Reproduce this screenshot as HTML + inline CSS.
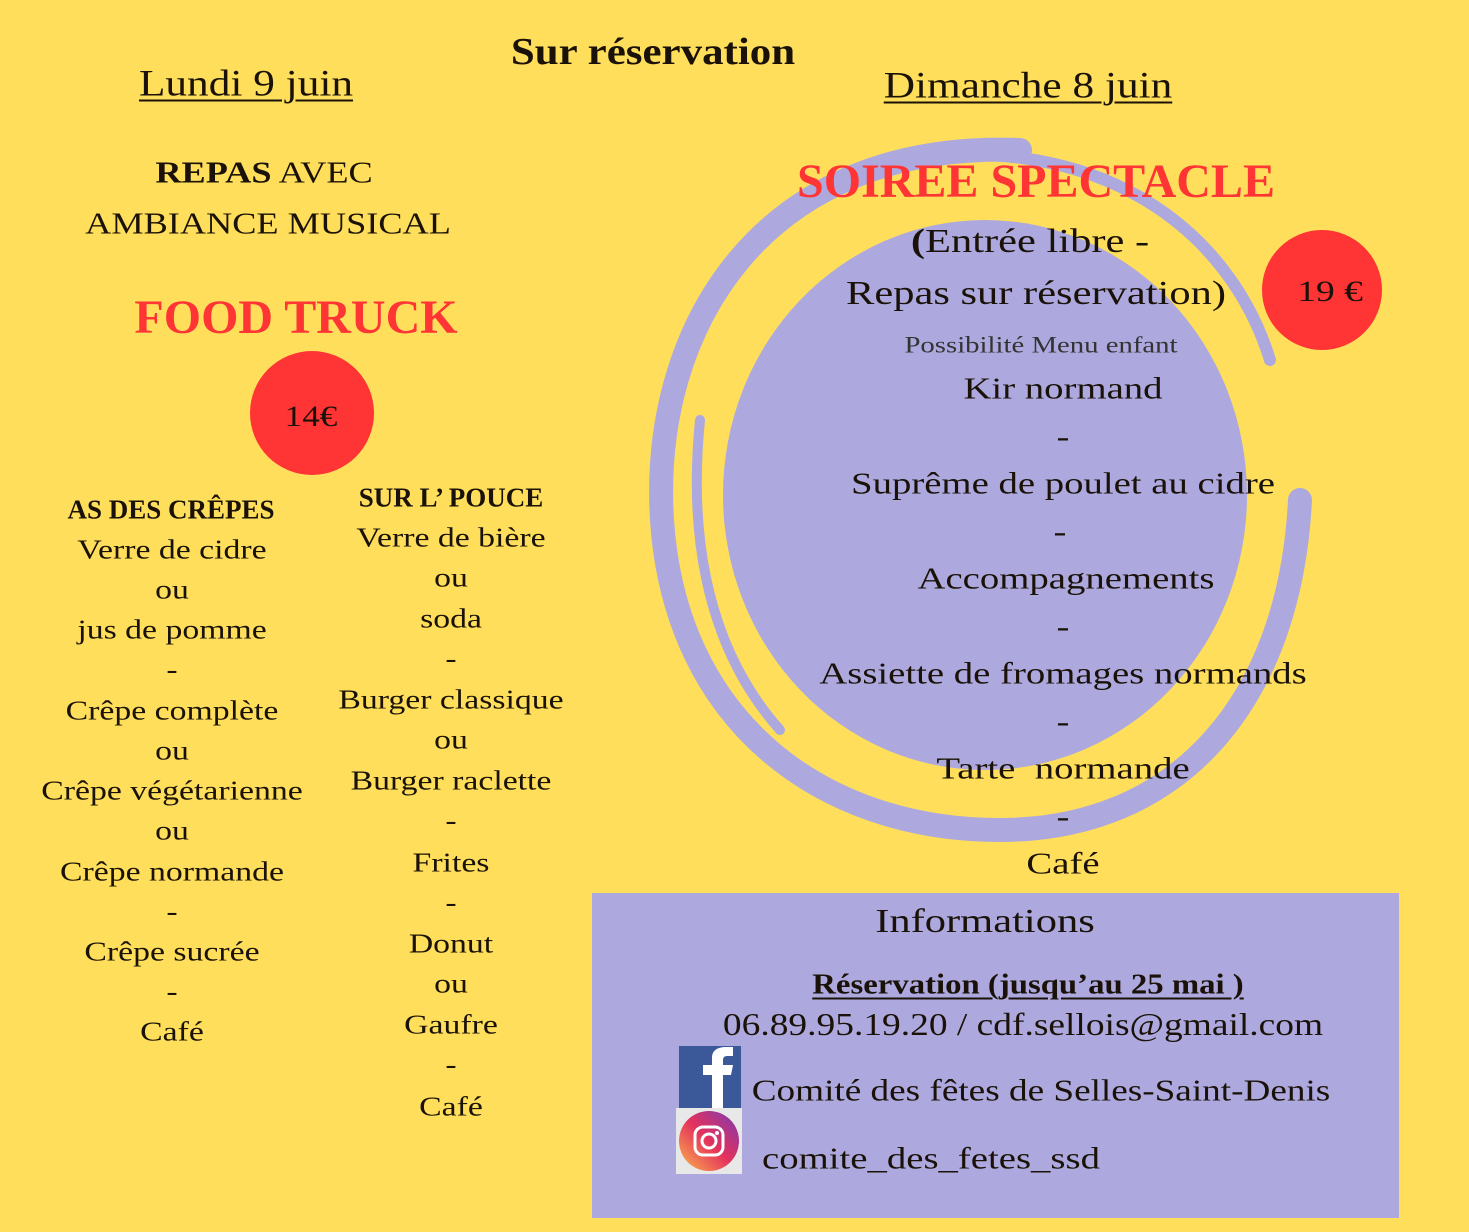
<!DOCTYPE html>
<html><head><meta charset="utf-8"><style>
html,body{margin:0;padding:0}
body{width:1469px;height:1232px;background:#FEDE5A;position:relative;overflow:hidden;font-family:"Liberation Serif",serif;color:#1a1208}
.c{position:absolute;transform:translate(-50%,-50%);white-space:nowrap;line-height:1}
.s1{transform:translate(-50%,-50%) scaleX(1.25)}
.s2{transform:translate(-50%,-50%) scaleX(1.17)}
.s3{transform:translate(-50%,-50%) scaleX(1.13)}
.b{font-weight:bold}
.r{color:#FF3535;font-weight:bold}
.u{text-decoration:underline;text-decoration-thickness:2px;text-underline-offset:4px}
.l{font-size:27px}
.m{font-size:31px}
</style></head><body>
<svg width="1469" height="1232" style="position:absolute;left:0;top:0">
  <g fill="none" stroke="#ADA9DF" stroke-linecap="round">
    <path d="M1020 150 C760 140 650 330 662 520 C675 720 820 830 1000 830 C1180 830 1290 700 1300 500" stroke-width="24"/>
    <path d="M900 160 C1100 130 1230 230 1270 360" stroke-width="12"/>
    <path d="M700 420 C690 520 700 640 780 730" stroke-width="10"/>
  </g>
  <ellipse cx="985" cy="495" rx="262" ry="275" fill="#ADA9DF"/>
  <rect x="592" y="893" width="807" height="325" fill="#ADA9DF"/>
  <circle cx="312" cy="413" r="62" fill="#FF3535"/>
  <circle cx="1322" cy="290" r="60" fill="#FF3535"/>
  <rect x="679" y="1046" width="62" height="62" fill="#3B5998"/>
  <path d="M712 1108 V1075 H703 V1065 H712 V1058 C712 1050 718 1047 726 1047 H733 V1056 H727 C724 1056 723 1058 723 1060 V1065 H733 L731 1075 H723 V1108 Z" fill="#fff"/>
  <rect x="676" y="1108" width="66" height="66" fill="#e8e8e8"/>
  <defs><linearGradient id="ig" x1="0" y1="1" x2="1" y2="0"><stop offset="0" stop-color="#FDB84C"/><stop offset=".5" stop-color="#E4315C"/><stop offset="1" stop-color="#7B3BB5"/></linearGradient></defs>
  <circle cx="709" cy="1141" r="30" fill="url(#ig)"/>
  <rect x="695" y="1127" width="28" height="28" rx="8" fill="none" stroke="#fff" stroke-width="3"/>
  <circle cx="709" cy="1141" r="7" fill="none" stroke="#fff" stroke-width="3"/>
  <circle cx="717" cy="1133" r="2" fill="#fff"/>
</svg>

<div class="c b s3" style="left:653px;top:52px;font-size:38px">Sur réservation</div>
<div class="c u s2" style="left:246px;top:84px;font-size:37px">Lundi 9 juin</div>
<div class="c u s2" style="left:1028px;top:86px;font-size:37px">Dimanche 8 juin</div>

<div class="c m s2" style="left:264px;top:172px"><b>REPAS</b> AVEC</div>
<div class="c m s2" style="left:268px;top:223px">AMBIANCE MUSICAL</div>
<div class="c r" style="left:296px;top:318px;font-size:48px">FOOD TRUCK</div>
<div class="c s2" style="left:311px;top:417px;font-size:30px">14€</div>

<div class="c b" style="left:171px;top:510px;font-size:27px">AS DES CRÊPES</div>
<div class="c l s1" style="left:172px;top:550px">Verre de cidre</div>
<div class="c l s1" style="left:172px;top:590px">ou</div>
<div class="c l s1" style="left:172px;top:630px">jus de pomme</div>
<div class="c l s1" style="left:172px;top:670px">-</div>
<div class="c l s1" style="left:172px;top:711px">Crêpe complète</div>
<div class="c l s1" style="left:172px;top:751px">ou</div>
<div class="c l s1" style="left:172px;top:791px">Crêpe végétarienne</div>
<div class="c l s1" style="left:172px;top:831px">ou</div>
<div class="c l s1" style="left:172px;top:872px">Crêpe normande</div>
<div class="c l s1" style="left:172px;top:912px">-</div>
<div class="c l s1" style="left:172px;top:952px">Crêpe sucrée</div>
<div class="c l s1" style="left:172px;top:992px">-</div>
<div class="c l s1" style="left:172px;top:1032px">Café</div>

<div class="c b" style="left:451px;top:498px;font-size:27px">SUR L’ POUCE</div>
<div class="c l s1" style="left:451px;top:538px">Verre de bière</div>
<div class="c l s1" style="left:451px;top:578px">ou</div>
<div class="c l s1" style="left:451px;top:619px">soda</div>
<div class="c l s1" style="left:451px;top:659px">-</div>
<div class="c l s1" style="left:451px;top:700px">Burger classique</div>
<div class="c l s1" style="left:451px;top:740px">ou</div>
<div class="c l s1" style="left:451px;top:781px">Burger raclette</div>
<div class="c l s1" style="left:451px;top:821px">-</div>
<div class="c l s1" style="left:451px;top:863px">Frites</div>
<div class="c l s1" style="left:451px;top:903px">-</div>
<div class="c l s1" style="left:451px;top:944px">Donut</div>
<div class="c l s1" style="left:451px;top:984px">ou</div>
<div class="c l s1" style="left:451px;top:1025px">Gaufre</div>
<div class="c l s1" style="left:451px;top:1065px">-</div>
<div class="c l s1" style="left:451px;top:1107px">Café</div>

<div class="c r" style="left:1036px;top:182px;font-size:48px">SOIREE SPECTACLE</div>
<div class="c s1" style="left:1030px;top:242px;font-size:34px"><b>(</b>Entrée libre -</div>
<div class="c s1" style="left:1036px;top:294px;font-size:34px">Repas sur réservation)</div>
<div class="c s1" style="left:1330px;top:292px;font-size:30px">19 €</div>
<div class="c s1" style="left:1041px;top:345px;font-size:23px;color:#333">Possibilité Menu enfant</div>
<div class="c m s1" style="left:1063px;top:388px">Kir normand</div>
<div class="c m s1" style="left:1063px;top:436px">-</div>
<div class="c m s1" style="left:1063px;top:483px">Suprême de poulet au cidre</div>
<div class="c m s1" style="left:1060px;top:531px">-</div>
<div class="c m s1" style="left:1066px;top:578px">Accompagnements</div>
<div class="c m s1" style="left:1063px;top:626px">-</div>
<div class="c m s1" style="left:1063px;top:673px">Assiette de fromages normands</div>
<div class="c m s1" style="left:1063px;top:721px">-</div>
<div class="c m s1" style="left:1063px;top:768px">Tarte&nbsp; normande</div>
<div class="c m s1" style="left:1063px;top:816px">-</div>
<div class="c m s1" style="left:1063px;top:863px">Café</div>

<div class="c s1" style="left:985px;top:922px;font-size:34px">Informations</div>
<div class="c b u s3" style="left:1028px;top:985px;font-size:29px">Réservation (jusqu’au 25 mai )</div>
<div class="c s2" style="left:1023px;top:1024px;font-size:32px">06.89.95.19.20 / cdf.sellois@gmail.com</div>
<div class="c" style="left:1041px;top:1090px;font-size:31px;transform:translate(-50%,-50%) scaleX(1.2)">Comité des fêtes de Selles-Saint-Denis</div>
<div class="c s1" style="left:931px;top:1158px;font-size:31px">comite_des_fetes_ssd</div>
</body></html>
